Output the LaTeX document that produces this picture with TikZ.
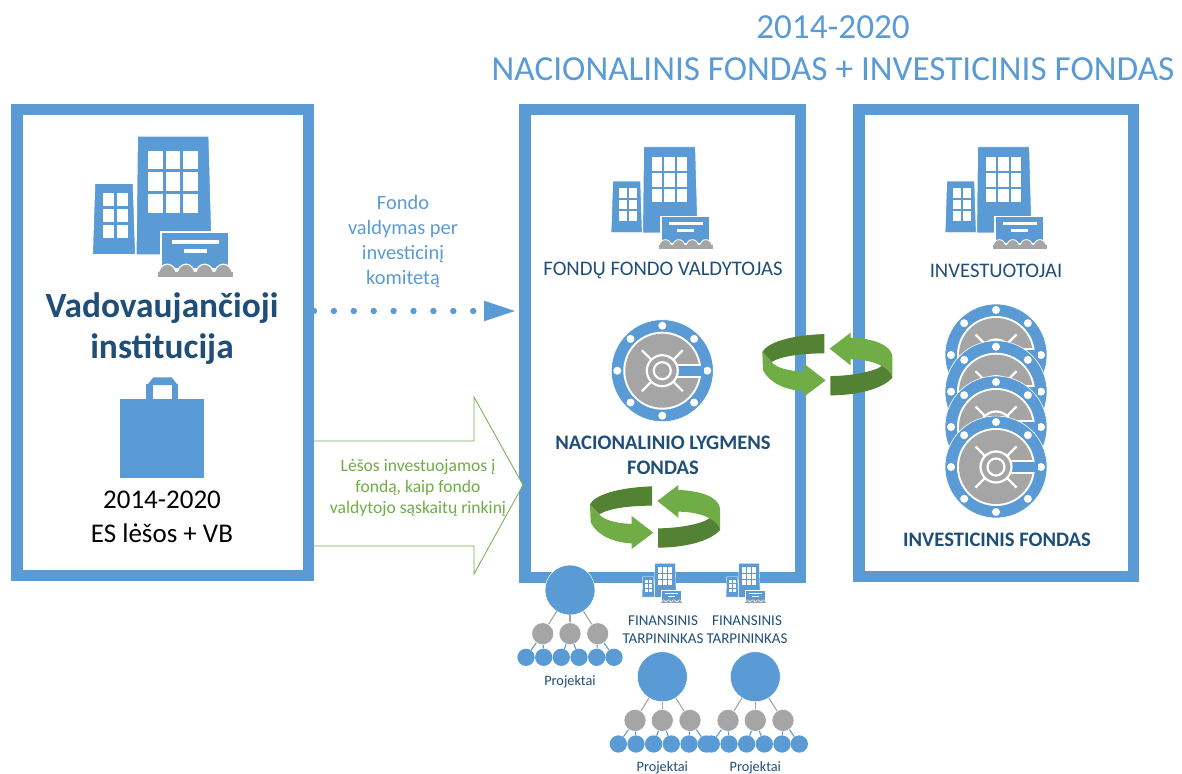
\documentclass[tikz,border=0pt]{standalone}
\usepackage{fontspec}
\setmainfont{Carlito}
\usetikzlibrary{arrows.meta}
\definecolor{bl}{HTML}{5B9BD5}
\definecolor{navy}{HTML}{1F4E79}
\definecolor{gr}{HTML}{A5A5A5}
\definecolor{lg}{HTML}{70AD47}
\definecolor{dg}{HTML}{548235}
\tikzset{
  frame/.style={draw=bl,line width=11.5pt,fill=white,inner sep=0pt,anchor=north west},
  txt/.style={inner sep=0pt,align=center,anchor=center},
  ttl/.style={txt,text=bl,font=\fontsize{35.2}{42}\selectfont},
  lab/.style={txt,text=navy,font=\fontsize{20.7}{24}\selectfont},
  labb/.style={txt,text=navy,font=\fontsize{20.6}{25}\selectfont\bfseries},
  small/.style={txt,text=navy,font=\fontsize{15}{17.5}\selectfont},
  bigc/.style={circle,fill=bl,draw=white,line width=.5pt,minimum size=50pt,inner sep=0pt},
  midc/.style={circle,fill=gr,draw=white,line width=.5pt,minimum size=22pt,inner sep=0pt},
  leaf/.style={circle,fill=bl,minimum size=17.3pt,inner sep=0pt},
  glink/.style={draw=gr,line width=1.1pt},
  blink/.style={draw=bl,line width=1.1pt},
}
% building: drawn in 3x units
\newcommand\bldg[3]{%
\pgfmathsetmacro\lw{1.2*#3}%
\begin{scope}[shift={(#1,#2)},scale=#3/3]
\filldraw[fill=bl,draw=white,line width=\lw pt] (172,48)--(387,48)--(397,405)--(168,405)--cycle;
\filldraw[fill=bl,draw=white,line width=\lw pt] (44,190)--(160,190)--(167,404)--(37,404)--cycle;
\foreach \a/\b in {205/249,257/301,309/353}\foreach \c/\d in {92/148,157/213,222/278}
  \fill[white] (\a,\c) rectangle (\b,\d);
\foreach \a/\b in {69/102,111/144}\foreach \c/\d in {220/259,268/307,316/355}
  \fill[white] (\a,\c) rectangle (\b,\d);
\fill[white] (240,333) -- (449,333) -- (449,445) -- (240,445) -- cycle;
\fill[bl] (247,339) rectangle (443,445);
\fill[white] (277,360) rectangle (416,371);
\fill[white] (312,388) rectangle (381,399);
\foreach \x in {262,318,374,430}
  \filldraw[fill=gr,draw=white,line width=\lw pt] (\x-28,470) .. controls (\x-28,420) and (\x+28,420) .. (\x+28,470) -- cycle;
\fill[gr] (234,456) rectangle (458,470);
\end{scope}}
% vault
\newcommand\vault[3]{%
\pgfmathsetmacro\lw{2.2*#3}%
\begin{scope}[shift={(#1,#2)},scale=#3]
\filldraw[fill=bl,draw=white,line width=.6pt] (0,0) circle[radius=51pt];
\fill[white] (0,0) circle[radius=39pt];
\fill[gr] (0,0) circle[radius=37pt];
\foreach \a in {0,45,...,315}\fill[white] (\a:45pt) circle[radius=4pt];
\foreach \a in {45,135,225,315}\draw[white,line width=\lw pt] (\a:15pt)--(\a:29pt);
\fill[white] (14,-7) rectangle (38.4,7);
\fill[bl] (14,-5) rectangle (42,5);
\draw[white,line width=\lw pt,fill=gr] (0,0) circle[radius=15.5pt];
\draw[white,line width=\lw pt,fill=gr] (0,0) circle[radius=8.5pt];
\end{scope}}
% cycle arrows
\newcommand\cyc[2]{%
\begin{scope}[shift={(#1,#2)},scale=1/3]
\fill[dg] (246,34) .. controls (140,38) and (75,60) .. (60,88) -- (88,118) .. controls (115,100) and (180,92) .. (246,92) -- cycle;
\fill[lg] (60,88) -- (62,142) .. controls (80,180) and (130,203) .. (185,205) -- (185,222) -- (250,173) -- (185,123) -- (185,147) .. controls (140,145) and (100,135) .. (88,118) -- cycle;
\fill[lg] (262,78) -- (325,30) -- (325,45) .. controls (390,47) and (445,65) .. (450,100) -- (450,165) -- (418,130) .. controls (400,118) and (360,110) .. (325,110) -- (325,128) -- cycle;
\fill[dg] (264,160) .. controls (330,160) and (400,145) .. (418,130) .. controls (435,140) and (447,150) .. (450,165) .. controls (420,200) and (340,218) .. (264,218) -- cycle;
\end{scope}}
% project tree
\newcommand\tree[3]{%
\node[bigc] (#1r) at (#2,#3) {};
\foreach \i/\dx in {1/-27.3,2/0,3/27.7}{\node[midc] (#1m\i) at (#2+\dx,#3+43.7) {};}
\foreach \i/\dx in {1/-44,2/-26.3,3/-8.7,4/9,5/26.7,6/44}{
  \node[leaf] (#1l\i) at (#2+\dx,#3+67.3) {};
}
\foreach \i in {1,2,3}{\draw[glink] (#1r)--(#1m\i);}
\foreach \i/\p in {1/1,2/1,3/2,4/2,5/3,6/3}{\draw[blink] (#1m\p)--(#1l\i);}
\node[small,font=\fontsize{14.3}{16}\selectfont] (#1t) at (#2,#3+91.5) {Projektai};
}
\begin{document}
\begin{tikzpicture}[x=1pt,y=-1pt]
\useasboundingbox (0,0) rectangle (1182,773);
% title
\node[ttl] (title) at (833,48) {2014-2020\\NACIONALINIS FONDAS + INVESTICINIS FONDAS};
% frames
\node[frame,minimum width=291.5pt,minimum height=465.5pt] (box1) at (11,104) {};
\node[frame,minimum width=275.5pt,minimum height=467.5pt] (box2) at (519,104) {};
\node[frame,minimum width=274.5pt,minimum height=466.5pt] (box3) at (853,104) {};
% box 1
\bldg{80}{120}{1}
\node[txt,text=navy,font=\fontsize{35.4}{41}\selectfont\bfseries] (vi) at (162,329) {Vadovaujančioji\\institucija};
\fill[bl] (120,399) rectangle (204,478);
\fill[bl] (146,384) rectangle (152.7,399);
\fill[bl] (171.7,384) rectangle (178.3,399);
\fill[bl] (147.3,385)--(153.3,377.3)--(171.7,377.3)--(177.7,385)--cycle;
\node[txt,text=black,font=\fontsize{27}{33.5}\selectfont] (vb) at (162,517) {2014-2020\\ES lėšos + VB};
% between
\node[txt,text=bl,font=\fontsize{20.4}{25}\selectfont] (fv) at (403,242) {Fondo\\valdymas per\\investicinį\\komitetą};
\coordinate (da) at (314,311);
\coordinate (db) at (515,311);
\draw[bl,line width=6.4pt,line cap=round,dash pattern=on 0pt off 19.9pt,
  -{Triangle[length=31pt,width=20.5pt,line width=0pt,line join=miter]}] (da)--(db);
\filldraw[fill=white,draw=lg,line width=.8pt] (314,441)--(474,441)--(474,397)--(523,485)--(474,574)--(474,546)--(314,546);
\node[txt,text=lg,font=\fontsize{17.6}{21}\selectfont] (gt) at (418,487.5) {Lėšos investuojamos į\\fondą, kaip fondo\\valdytojo sąskaitų rinkinį};
% box 2
\bldg{602}{135.1}{.725}
\node[lab] (fv2) at (663,270.5) {FONDŲ FONDO VALDYTOJAS};
\vault{662.3}{370.7}{1}
\node[labb] (nlf) at (663,455.5) {NACIONALINIO LYGMENS\\FONDAS};
\cyc{570}{475}
% box 3
\bldg{936}{135.1}{.725}
\node[lab] (inv) at (996,270.5) {INVESTUOTOJAI};
\vault{996}{355}{1}
\vault{996}{391.7}{1}
\vault{996}{427}{1}
\vault{996}{467}{1}
\node[labb] (ifd) at (997,540) {INVESTICINIS FONDAS};
\cyc{742.3}{322.7}
% trees
\bldg{638.5}{558.7}{.285}
\bldg{722.5}{558.7}{.285}
\node[small] (ft1) at (663,629.5) {FINANSINIS\\TARPININKAS};
\node[small] (ft2) at (747,629.5) {FINANSINIS\\TARPININKAS};
\tree{a}{570}{590}
\tree{b}{662.3}{676.7}
\tree{c}{755.3}{676.7}
\end{tikzpicture}
\end{document}
